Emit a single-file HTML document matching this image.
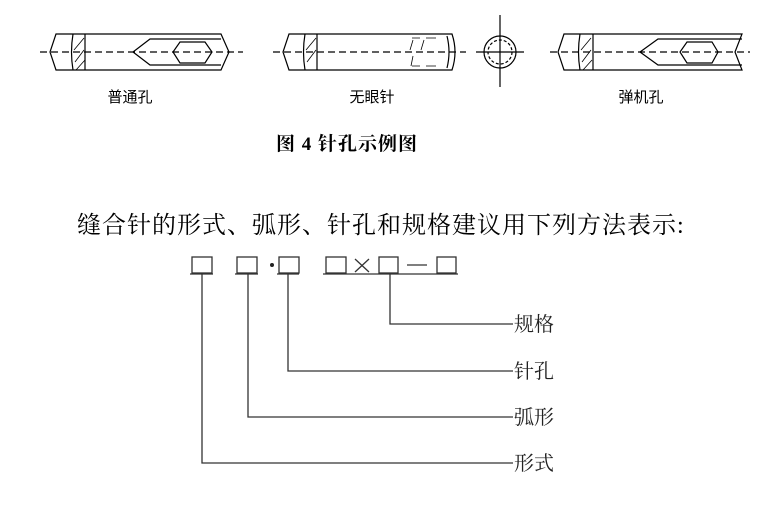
<!DOCTYPE html>
<html><head><meta charset="utf-8"><style>
html,body{margin:0;padding:0;background:#fff;width:774px;height:512px;overflow:hidden}
svg{display:block}
</style></head><body>
<svg width="774" height="512" viewBox="0 0 774 512" xmlns="http://www.w3.org/2000/svg" font-family="'Liberation Sans','Noto Sans CJK SC',sans-serif">
<g stroke="#000" stroke-width="1.2" fill="none">
 <path d="M56,34 L221,34 L229,52 L221,70 L56,70 L50,52 Z"/>
 <path d="M73,34 Q70,52 73,70 M85,34 L85,70"/>
 <path d="M75,62 L84,50 M74,50 L84,38 M76,70 L85,60" stroke-width="0.8"/>
 <path d="M221,39 L150,39 L133,52 L150,65 L221,65"/>
 <path d="M180,42 L205,42 L212,52 L205,63 L180,63 L173,52 Z"/>
 <path d="M40,52 L243,52" stroke-dasharray="7,4"/>
 <path d="M289,34 L452,34 Q458,52 452,70 L289,70 L283,52 Z"/>
 <path d="M305,34 Q302,52 305,70 M317,34 L317,70"/>
 <path d="M307,62 L316,50 M306,50 L316,38" stroke-width="0.8"/>
 <path d="M447,36 Q451,52 447,68"/>
 <path d="M412,38 L420,38 M426,38 L436,38 M412,66 L420,66 M426,66 L436,66 M413,40 L410,50 M424,40 L421,50 M413,56 L411,66" stroke-width="0.8"/>
 <path d="M273,52 L466,52" stroke-dasharray="7,4"/>
 <circle cx="500" cy="52" r="16"/>
 <circle cx="500" cy="52" r="12" stroke-dasharray="3,2"/>
 <path d="M500,15 L500,87 M476,52 L524,52"/>
 <path d="M564,34 L742,34 L735,52 L742,70 L564,70 L558,52 Z"/>
 <path d="M580,34 Q577,52 580,70 M593,34 L593,70"/>
 <path d="M582,62 L591,50 M581,50 L591,38 M583,70 L592,60" stroke-width="0.8"/>
 <path d="M742,39 L658,39 L640,52 L658,65 L742,65"/>
 <path d="M687,42 L712,42 L718,52 L712,63 L687,63 L680,52 Z"/>
 <path d="M550,52 L750,52" stroke-dasharray="7,4"/>
</g>
<g font-size="15" text-anchor="middle" fill="#000">
 <text x="130" y="102">普通孔</text>
 <text x="372" y="102">无眼针</text>
 <text x="641" y="102">弹机孔</text>
</g>
<text x="276" y="150" font-size="19" font-weight="bold" letter-spacing="1" fill="#000" font-family="'Liberation Serif','Noto Serif CJK SC',serif">图 4  针孔示例图</text>
<text x="77" y="233" font-size="24" letter-spacing="1" fill="#000" font-family="'Liberation Serif','Noto Serif CJK SC',serif">缝合针的形式、弧形、针孔和规格建议用下列方法表示:</text>
<g stroke="#333" stroke-width="1.3" fill="none">
 <rect x="192" y="257" width="20" height="16"/>
 <rect x="237" y="257" width="20" height="16"/>
 <rect x="279" y="257" width="20" height="16"/>
 <rect x="326" y="257" width="20" height="16"/>
 <rect x="379" y="257" width="19" height="16"/>
 <rect x="437" y="257" width="19" height="16"/>
 <path d="M355,259 L369,272 M369,259 L355,272 M407,265 L427,265"/>
 <path d="M190,274 L213,274 M235,274 L258,274 M277,274 L299,274 M323,274 L458,274"/>
 <path d="M202,274 L202,463 L513,463 M248,274 L248,417 L513,417 M288,274 L288,371 L513,371 M390,274 L390,324 L513,324"/>
</g>
<circle cx="272" cy="265" r="2" fill="#222"/>
<g font-size="20" fill="#222" font-family="'Liberation Serif','Noto Serif CJK SC',serif">
 <text x="514" y="331">规格</text>
 <text x="514" y="378">针孔</text>
 <text x="514" y="424">弧形</text>
 <text x="514" y="470">形式</text>
</g>
</svg>
</body></html>
